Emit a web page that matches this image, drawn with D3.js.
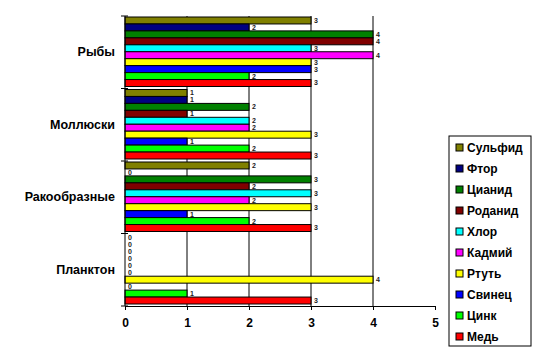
<!DOCTYPE html>
<html>
<head>
<meta charset="utf-8">
<script src="https://cdn.jsdelivr.net/npm/d3@7"></script>
<style>
  body { margin: 0; background: #fff; }
  text { font-family: "Liberation Sans", Arial, sans-serif; }
</style>
</head>
<body>
<svg id="chart"></svg>
<script>
// categories top to bottom
const categories = ['Рыбы', 'Моллюски', 'Ракообразные', 'Планктон'];
// series, top to bottom inside each category
const series = ['Сульфид', 'Фтор', 'Цианид', 'Роданид', 'Хлор', 'Кадмий', 'Ртуть', 'Свинец', 'Цинк', 'Медь'];
const colors = ['#808000', '#000080', '#008000', '#800000', '#00ffff', '#ff00ff', '#ffff00', '#0000ff', '#00ff00', '#ff0000'];
// values per series, in category order
const sulfid  = [3, 1, 2, 0];
const ftor    = [2, 1, 0, 0];
const cyanid  = [4, 2, 3, 0];
const rodanid = [4, 1, 2, 0];
const hlor    = [3, 2, 3, 0];
const kadmiy  = [4, 2, 2, 0];
const rtut    = [3, 3, 3, 4];
const svinec  = [3, 1, 1, 0];
const cink    = [2, 2, 2, 1];
const med     = [3, 3, 3, 3];
const xTicks = [0, 1, 2, 3, 4, 5];

const values = [sulfid, ftor, cyanid, rodanid, hlor, kadmiy, rtut, svinec, cink, med];
const data = [];
categories.forEach((c, ci) => {
  series.forEach((s, si) => data.push({ cat: c, ser: s, color: colors[si], value: values[si][ci] }));
});

const W = 560, H = 351;
const margin = { top: 16, right: 125, bottom: 45, left: 125 };
const width = W - margin.left - margin.right;
const height = H - margin.top - margin.bottom;

const svg = d3.select('#chart').attr('width', W).attr('height', H);
const chart = svg.append('g').attr('transform', `translate(${margin.left},${margin.top})`);

const x = d3.scaleLinear().domain([0, 5]).range([0, width]);
const y0 = d3.scaleBand().domain(categories).range([0, height]).paddingInner(0).paddingOuter(0);
const y1 = d3.scaleBand().domain(series).range([1, y0.bandwidth() - 2]).padding(0);

// vertical gridlines
chart.selectAll('.grid')
  .data(xTicks.slice(1, -1))
  .join('line')
    .attr('x1', d => x(d)).attr('x2', d => x(d))
    .attr('y1', 0).attr('y2', height)
    .attr('stroke', '#000').attr('stroke-width', 1);

// bars
const groups = chart.selectAll('.cat')
  .data(categories)
  .join('g')
    .attr('transform', d => `translate(0,${y0(d)})`);

groups.selectAll('rect')
  .data(c => data.filter(d => d.cat === c && d.value > 0))
  .join('rect')
    .attr('x', 0)
    .attr('y', d => y1(d.ser))
    .attr('width', d => x(d.value))
    .attr('height', y1.bandwidth())
    .attr('fill', d => d.color)
    .attr('stroke', '#000')
    .attr('stroke-width', 1);

groups.selectAll('.val')
  .data(c => data.filter(d => d.cat === c))
  .join('text')
    .attr('class', 'val')
    .attr('x', d => x(d.value) + 3)
    .attr('y', d => y1(d.ser) + y1.bandwidth() / 2)
    .attr('dy', '0.35em')
    .style('font-size', '7px')
    .style('font-weight', 'bold')
    .attr('fill', '#222')
    .text(d => d.value);

// y axis
const yAxis = d3.axisLeft(y0).tickSize(0).tickPadding(10);
const yAxisG = chart.append('g').call(yAxis);
yAxisG.select('.domain').remove();
yAxisG.selectAll('text')
  .style('font-size', '12.5px').style('font-weight', 'bold')
  .style('font-family', '"Liberation Sans", Arial, sans-serif')
  .attr('fill', '#000');
chart.append('line')
  .attr('x1', 0).attr('x2', 0).attr('y1', 0).attr('y2', height)
  .attr('stroke', '#000');
// category boundary ticks
chart.selectAll('.ytick')
  .data(d3.range(categories.length + 1))
  .join('line')
    .attr('x1', -4).attr('x2', 3)
    .attr('y1', i => i * y0.step()).attr('y2', i => i * y0.step())
    .attr('stroke', '#000');

// x axis
const xAxis = d3.axisBottom(x).tickValues(xTicks).tickSize(4).tickPadding(8).tickFormat(d3.format('d'));
const xAxisG = chart.append('g').attr('transform', `translate(0,${height})`).call(xAxis);
xAxisG.selectAll('text')
  .style('font-size', '12px').style('font-weight', 'bold')
  .style('font-family', '"Liberation Sans", Arial, sans-serif')
  .attr('fill', '#000');

// legend
const legend = svg.append('g').attr('transform', 'translate(449,136)');
legend.append('rect')
  .attr('width', 82).attr('height', 210)
  .attr('fill', '#fff').attr('stroke', '#000');
const items = legend.selectAll('.item')
  .data(series)
  .join('g')
    .attr('transform', (d, i) => `translate(7,${12 + i * 21})`);
items.append('rect')
  .attr('x', 0).attr('y', -4).attr('width', 7).attr('height', 7)
  .attr('fill', (d, i) => colors[i]).attr('stroke', '#000');
items.append('text')
  .attr('x', 11).attr('y', 0).attr('dy', '0.35em')
  .style('font-size', '12px').style('font-weight', 'bold')
  .text(d => d);
</script>
</body>
</html>
